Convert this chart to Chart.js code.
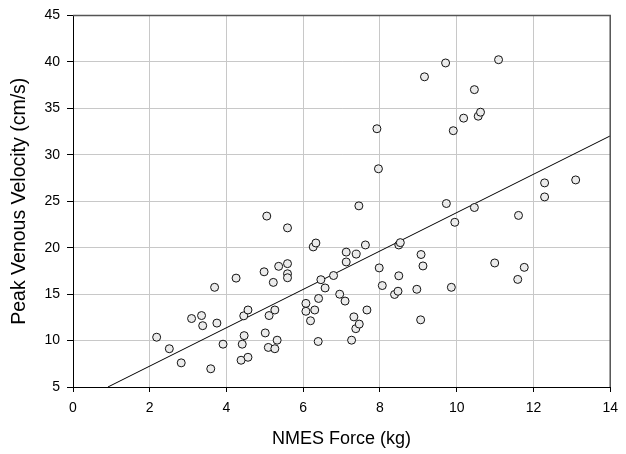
<!DOCTYPE html>
<html>
<head>
<meta charset="utf-8">
<script src="https://cdn.jsdelivr.net/npm/chart.js@4/dist/chart.umd.min.js"></script>
<style>
  html, body { margin: 0; padding: 0; background: #fff; }
  #wrap { width: 626px; height: 454px; }
</style>
</head>
<body>
<div id="wrap"><canvas id="c" width="626" height="454"></canvas></div>
<script>
// NMES force (kg) for each subject
const forceKg = [
  2.18, 2.51, 2.82, 3.09, 3.35, 3.38, 3.59, 3.69, 3.75, 3.91,
  4.25, 4.38, 4.41, 4.45, 4.46, 4.56, 4.56, 4.98, 5.01, 5.05,
  5.09, 5.11, 5.22, 5.26, 5.26, 5.32, 5.36, 5.59, 5.59, 5.59,
  5.59, 6.07, 6.07, 6.19, 6.26, 6.30, 6.33, 6.39, 6.40, 6.46,
  6.57, 6.79, 6.95, 7.09, 7.12, 7.12, 7.26, 7.32, 7.37, 7.38,
  7.45, 7.46, 7.62, 7.66, 7.92, 7.96, 7.98, 8.06, 8.38, 8.47,
  8.49, 8.53, 8.49, 8.96, 9.06, 9.07, 9.12, 9.16, 9.71, 9.73,
  9.86, 9.91, 9.95, 10.18, 10.46, 10.46, 10.56, 10.62, 10.99, 11.09,
  11.59, 11.61, 11.76, 12.29, 12.29, 13.10
];
// Peak venous velocity (cm/s) for each subject
const velocityCms = [
  10.36, 9.12, 7.60, 12.37, 12.69, 11.60, 6.96, 15.73, 11.88, 9.61,
  16.72, 7.88, 9.61, 12.66, 10.53, 13.29, 8.20, 17.40, 10.82, 23.40,
  9.26, 12.69, 16.26, 13.29, 9.12, 10.04, 17.99, 22.13, 18.28, 17.19,
  16.76, 14.00, 13.15, 12.13, 20.08, 13.29, 20.50, 9.90, 14.53, 16.55,
  15.66, 17.00, 14.99, 14.25, 19.52, 18.46, 10.04, 12.55, 11.28, 19.30,
  24.50, 11.77, 20.29, 13.29, 32.80, 28.49, 17.82, 15.92, 14.96, 15.31,
  20.29, 20.54, 16.97, 15.52, 12.23, 19.26, 18.03, 38.39, 39.88, 24.75,
  15.73, 32.59, 22.73, 33.94, 37.01, 24.32, 34.15, 34.58, 18.35, 40.23,
  16.58, 23.47, 17.88, 26.97, 25.46, 27.29
];
// Regression line end points
const fitX = [0.91, 14];
const fitY = [5, 32.03];

const xTitle = 'NMES Force (kg)';
const yTitle = 'Peak Venous Velocity (cm/s)';
const xMin = 0, xMax = 14, xStep = 2;
const yMin = 5, yMax = 45, yStep = 5;

const scatterData = forceKg.map((x, i) => ({ x: x, y: velocityCms[i] }));
const fitData = fitX.map((x, i) => ({ x: x, y: fitY[i] }));

const FONT = 'Arial, "Liberation Sans", Helvetica, sans-serif';

const framePlugin = {
  id: 'frame',
  afterDraw(chart) {
    const a = chart.chartArea;
    const ctx = chart.ctx;
    ctx.save();
    ctx.strokeStyle = '#555';
    ctx.lineWidth = 1.5;
    ctx.beginPath();
    ctx.moveTo(a.left, a.top);
    ctx.lineTo(a.right, a.top);
    ctx.lineTo(a.right, a.bottom);
    ctx.stroke();
    ctx.restore();
  }
};

new Chart(document.getElementById('c'), {
  type: 'scatter',
  data: {
    datasets: [
      {
        type: 'line',
        data: fitData,
        borderColor: '#000',
        borderWidth: 1,
        pointRadius: 0,
        fill: false,
        order: 2
      },
      {
        type: 'scatter',
        data: scatterData,
        pointRadius: 4,
        pointBackgroundColor: '#ebebeb',
        pointBorderColor: '#111',
        pointBorderWidth: 1,
        order: 1
      }
    ]
  },
  options: {
    responsive: false,
    animation: false,
    devicePixelRatio: 1,
    layout: { padding: { top: 10, right: 14, left: 0, bottom: 0 } },
    plugins: { legend: { display: false }, tooltip: { enabled: false } },
    scales: {
      x: {
        type: 'linear',
        min: xMin, max: xMax,
        ticks: { stepSize: xStep, color: '#000', font: { family: FONT, size: 14 }, padding: 8, maxRotation: 0 },
        grid: { color: '#c8c8c8', lineWidth: 1, tickColor: '#000', tickLength: 5 },
        border: { color: '#000', width: 1 },
        title: { display: true, text: xTitle, color: '#000', font: { family: FONT, size: 18 }, padding: { top: 0, bottom: 4 } },
        afterFit(scale) { scale.height = 67; }
      },
      y: {
        type: 'linear',
        min: yMin, max: yMax,
        ticks: { stepSize: yStep, color: '#000', font: { family: FONT, size: 14 }, padding: 7 },
        grid: { color: '#c8c8c8', lineWidth: 1, tickColor: '#000', tickLength: 6 },
        border: { color: '#000', width: 1 },
        title: { display: true, text: yTitle, color: '#000', font: { family: FONT, size: 19.5 }, padding: { top: 8, bottom: 0 } },
        afterFit(scale) { scale.width = 73; }
      }
    }
  },
  plugins: [framePlugin]
});
</script>
</body>
</html>
